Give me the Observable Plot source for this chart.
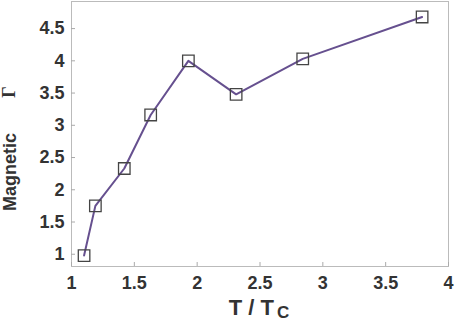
<!DOCTYPE html>
<html><head><meta charset="utf-8">
<script src="https://cdn.jsdelivr.net/npm/d3@7"></script>
<script src="https://cdn.jsdelivr.net/npm/@observablehq/plot@0.6"></script>
<style>body{margin:0;background:#fff}</style>
</head><body><div id="c"></div>
<script>
const tRatio = [1.1, 1.19, 1.42, 1.63, 1.93, 2.31, 2.84, 3.79];
const gamma = [0.98, 1.75, 2.33, 3.16, 4.0, 3.48, 4.03, 4.68];
const xTicks = [1, 1.5, 2, 2.5, 3, 3.5, 4];
const yTicks = [1, 1.5, 2, 2.5, 3, 3.5, 4, 4.5];
const data = tRatio.map((t, i) => ({t, g: gamma[i]}));
const fmt = d => String(d);
const chart = Plot.plot({
  width: 454, height: 323,
  marginLeft: 71, marginRight: 6, marginTop: 1, marginBottom: 57,
  style: {fontFamily: "'Liberation Sans', Arial, sans-serif", fontWeight: "bold", fontSize: "18px", color: "#333", background: "#fff"},
  x: {domain: [1, 4]},
  y: {domain: [0.81, 4.92]},
  marks: [
    Plot.frame({stroke: "#bbb"}),
    Plot.axisX({ticks: xTicks, tickSize: -4, stroke: "#aaa", tickFormat: () => "", label: null}),
    Plot.axisX({ticks: xTicks, tickSize: 0, tickPadding: 10, tickFormat: fmt, label: null}),
    Plot.axisY({ticks: yTicks, tickSize: -4, stroke: "#aaa", tickFormat: () => "", label: null}),
    Plot.axisY({ticks: yTicks, tickSize: 0, tickPadding: 7, tickFormat: fmt, label: null}),
    Plot.line(data, {x: "t", y: "g", stroke: "#66508f", strokeWidth: 2}),
    Plot.dot(data, {x: "t", y: "g", symbol: "square", r: 6.5, stroke: "#444", fill: "none", strokeWidth: 1.3})
  ]
});
const svg = d3.select(chart);
const xl = svg.append("text").attr("x", 259).attr("y", 315).attr("text-anchor", "middle")
  .attr("font-size", 22).attr("font-weight", "bold").attr("fill", "#333")
  .attr("font-family", "'Liberation Sans', Arial, sans-serif");
xl.append("tspan").text("T / T");
xl.append("tspan").attr("font-size", 17).attr("dy", 3).attr("dx", 3).text("C");
svg.append("text").attr("transform", "translate(16,172) rotate(-90)").attr("text-anchor", "middle")
  .attr("font-size", 18).attr("font-weight", "bold").attr("fill", "#333")
  .attr("font-family", "'Liberation Sans', Arial, sans-serif").text("Magnetic");
svg.append("text").attr("transform", "translate(15,92) rotate(-90)").attr("text-anchor", "middle")
  .attr("font-size", 18).attr("fill", "#333")
  .attr("font-family", "'Liberation Serif', serif").text("Γ");
document.getElementById("c").append(chart);
</script></body></html>
